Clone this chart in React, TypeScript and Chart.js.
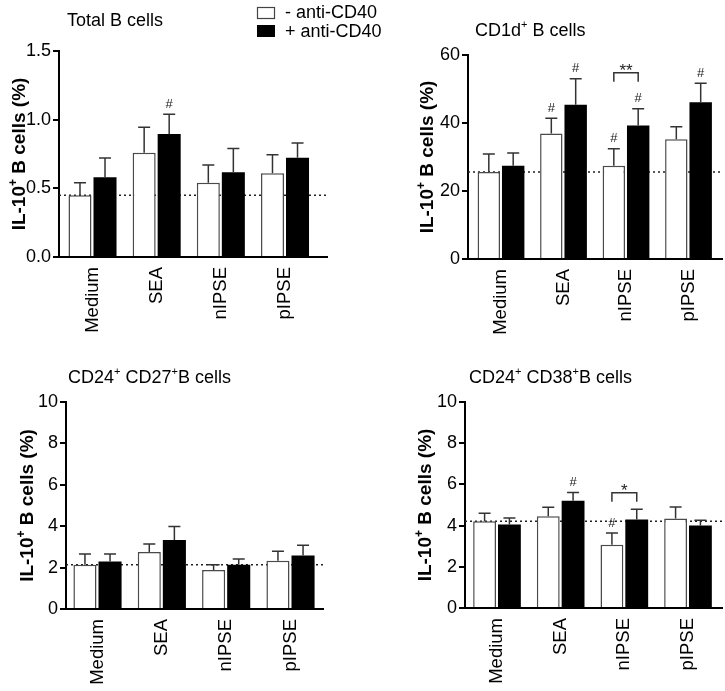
import React, { useEffect, useRef } from "react";
import { Chart, registerables } from "chart.js";

Chart.register(...registerables);

const FONT = "'Liberation Sans', Arial, Helvetica, sans-serif";

// ---------- data ----------
const categories = ["Medium", "SEA", "nIPSE", "pIPSE"];
const seriesLabels = ["- anti-CD40", "+ anti-CD40"];

// Total B cells
const totalMinus = [0.45, 0.76, 0.54, 0.61];
const totalMinusTop = [0.54, 0.945, 0.67, 0.745];
const totalPlus = [0.58, 0.895, 0.617, 0.723];
const totalPlusTop = [0.72, 1.04, 0.79, 0.83];
const totalTicks = [0, 0.5, 1.0, 1.5];

// CD1d+ B cells
const cd1dMinus = [25.6, 36.9, 27.4, 35.2];
const cd1dMinusTop = [30.9, 41.4, 32.4, 38.9];
const cd1dPlus = [27.4, 45.4, 39.3, 46.1];
const cd1dPlusTop = [31.2, 53.0, 44.2, 51.7];
const cd1dTicks = [0, 20, 40, 60];

// CD24+ CD27+ B cells
const cd27Minus = [2.14, 2.75, 1.88, 2.33];
const cd27MinusTop = [2.66, 3.14, 2.14, 2.79];
const cd27Plus = [2.3, 3.33, 2.14, 2.59];
const cd27PlusTop = [2.66, 3.99, 2.42, 3.08];
const cd27Ticks = [0, 2, 4, 6, 8, 10];

// CD24+ CD38+ B cells
const cd38Minus = [4.21, 4.45, 3.07, 4.35];
const cd38MinusTop = [4.6, 4.89, 3.64, 4.9];
const cd38Plus = [4.05, 5.21, 4.3, 4.0];
const cd38PlusTop = [4.37, 5.61, 4.79, 4.26];
const cd38Ticks = [0, 2, 4, 6, 8, 10];

// significance marks: [category, series]
const cd1dHashes: [number, number][] = [[1, 0], [1, 1], [2, 0], [2, 1], [3, 1]];
const totalHashes: [number, number][] = [[1, 1]];
const cd27Hashes: [number, number][] = [];
const cd38Hashes: [number, number][] = [[1, 1], [2, 0]];
const cd1dBrackets = [{ cat: 2, level: 54.8, label: "**" }];
const cd38Brackets = [{ cat: 2, level: 5.6, label: "*" }];

type Seg = { t: string; sup?: boolean };

const yTitle: Seg[] = [{ t: "IL-10" }, { t: "+", sup: true }, { t: " B cells (%)" }];

type Panel = {
  title: Seg[];
  minus: number[];
  minusTop: number[];
  plus: number[];
  plusTop: number[];
  ticks: number[];
  decimals: number;
  hashes: [number, number][];
  brackets: { cat: number; level: number; label: string }[];
  area: { left: number; right: number; top: number; bottom: number };
  centers: [number, number];
  titlePos: [number, number];
  yTitleX: number;
  legend?: boolean;
};

const panels: Panel[] = [
  {
    title: [{ t: "Total B cells" }],
    minus: totalMinus, minusTop: totalMinusTop, plus: totalPlus, plusTop: totalPlusTop,
    ticks: totalTicks, decimals: 1, hashes: totalHashes, brackets: [],
    area: { left: 59, right: 327, top: 51, bottom: 257 },
    centers: [92.5, 285],
    titlePos: [67, 20],
    yTitleX: 18,
    legend: true,
  },
  {
    title: [{ t: "CD1d" }, { t: "+", sup: true }, { t: " B cells" }],
    minus: cd1dMinus, minusTop: cd1dMinusTop, plus: cd1dPlus, plusTop: cd1dPlusTop,
    ticks: cd1dTicks, decimals: 0, hashes: cd1dHashes, brackets: cd1dBrackets,
    area: { left: 468, right: 722, top: 55, bottom: 259 },
    centers: [501, 688.5],
    titlePos: [475, 30],
    yTitleX: 426,
  },
  {
    title: [{ t: "CD24" }, { t: "+", sup: true }, { t: " CD27" }, { t: "+", sup: true }, { t: "B cells" }],
    minus: cd27Minus, minusTop: cd27MinusTop, plus: cd27Plus, plusTop: cd27PlusTop,
    ticks: cd27Ticks, decimals: 0, hashes: cd27Hashes, brackets: [],
    area: { left: 66, right: 323, top: 402, bottom: 609 },
    centers: [97.5, 290.5],
    titlePos: [68, 377],
    yTitleX: 26,
  },
  {
    title: [{ t: "CD24" }, { t: "+", sup: true }, { t: " CD38" }, { t: "+", sup: true }, { t: "B cells" }],
    minus: cd38Minus, minusTop: cd38MinusTop, plus: cd38Plus, plusTop: cd38PlusTop,
    ticks: cd38Ticks, decimals: 0, hashes: cd38Hashes, brackets: cd38Brackets,
    area: { left: 465, right: 722, top: 402, bottom: 608 },
    centers: [497, 688],
    titlePos: [469, 377],
    yTitleX: 424,
  },
];

const W = 725;
const H = 691;
const Y_W = 45;
const X_H = 80;

function richWidth(ctx: CanvasRenderingContext2D, segs: Seg[], size: number, weight: string) {
  let w = 0;
  for (const s of segs) {
    ctx.font = `${weight} ${s.sup ? Math.round(size * 0.62) : size}px ${FONT}`;
    w += ctx.measureText(s.t).width;
  }
  return w;
}

function drawRich(
  ctx: CanvasRenderingContext2D,
  segs: Seg[],
  x: number,
  y: number,
  size: number,
  weight: string,
  align: "left" | "center"
) {
  const total = richWidth(ctx, segs, size, weight);
  let cx = align === "center" ? x - total / 2 : x;
  ctx.textAlign = "left";
  ctx.textBaseline = "alphabetic";
  for (const s of segs) {
    const sz = s.sup ? Math.round(size * 0.62) : size;
    ctx.font = `${weight} ${sz}px ${FONT}`;
    ctx.fillText(s.t, cx, s.sup ? y - size * 0.42 : y);
    cx += ctx.measureText(s.t).width;
  }
}

function makePlugin(p: Panel) {
  return {
    id: "panelDecor",
    beforeDatasetsDraw(chart: any) {
      const ctx: CanvasRenderingContext2D = chart.ctx;
      const ys = chart.scales.y;
      const ca = chart.chartArea;
      const yy = ys.getPixelForValue(p.minus[0]);
      ctx.save();
      ctx.strokeStyle = "#222";
      ctx.lineWidth = 1.5;
      ctx.setLineDash([2, 3]);
      ctx.beginPath();
      ctx.moveTo(ca.left, yy);
      ctx.lineTo(ca.right, yy);
      ctx.stroke();
      ctx.restore();
    },
    afterDatasetsDraw(chart: any) {
      const ctx: CanvasRenderingContext2D = chart.ctx;
      const ys = chart.scales.y;
      const tops = [p.minusTop, p.plusTop];
      ctx.save();
      ctx.strokeStyle = "#333";
      ctx.lineWidth = 1.5;
      for (let d = 0; d < 2; d++) {
        const meta = chart.getDatasetMeta(d);
        meta.data.forEach((el: any, i: number) => {
          const yt = ys.getPixelForValue(tops[d][i]);
          ctx.beginPath();
          ctx.moveTo(el.x, el.y);
          ctx.lineTo(el.x, yt);
          ctx.moveTo(el.x - 6, yt);
          ctx.lineTo(el.x + 6, yt);
          ctx.stroke();
        });
      }
      ctx.fillStyle = "#222";
      ctx.font = `13px ${FONT}`;
      ctx.textAlign = "center";
      ctx.textBaseline = "middle";
      for (const [c, d] of p.hashes) {
        const el = chart.getDatasetMeta(d).data[c];
        const yt = ys.getPixelForValue(tops[d][c]);
        ctx.fillText("#", el.x, yt - 10);
      }
      for (const b of p.brackets) {
        const x1 = chart.getDatasetMeta(0).data[b.cat].x;
        const x2 = chart.getDatasetMeta(1).data[b.cat].x;
        const yb = ys.getPixelForValue(b.level);
        ctx.beginPath();
        ctx.moveTo(x1, yb + 9);
        ctx.lineTo(x1, yb);
        ctx.lineTo(x2, yb);
        ctx.lineTo(x2, yb + 9);
        ctx.stroke();
        ctx.font = `17px ${FONT}`;
        ctx.textBaseline = "alphabetic";
        ctx.fillText(b.label, (x1 + x2) / 2, yb + 3);
      }
      ctx.restore();
    },
    afterDraw(chart: any) {
      const ctx: CanvasRenderingContext2D = chart.ctx;
      const ca = chart.chartArea;
      ctx.save();
      ctx.fillStyle = "#000";
      drawRich(ctx, p.title, p.titlePos[0], p.titlePos[1] + 6, 18, "normal", "left");
      ctx.save();
      ctx.translate(p.yTitleX, (ca.top + ca.bottom) / 2);
      ctx.rotate(-Math.PI / 2);
      drawRich(ctx, yTitle, 0, 7, 19, "bold", "center");
      ctx.restore();
      if (p.legend) {
        ctx.lineWidth = 1.2;
        ctx.strokeStyle = "#444";
        ctx.fillStyle = "#fff";
        ctx.fillRect(257, 7, 18, 12);
        ctx.strokeRect(257.5, 7.5, 17, 11);
        ctx.fillStyle = "#000";
        ctx.fillRect(257, 25, 18, 12);
        ctx.font = `18px ${FONT}`;
        ctx.textAlign = "left";
        ctx.textBaseline = "middle";
        ctx.fillText(seriesLabels[0], 285, 13);
        ctx.fillText(seriesLabels[1], 285, 32);
      }
      ctx.restore();
    },
  };
}

function PanelChart({ p }: { p: Panel }) {
  const ref = useRef<HTMLCanvasElement | null>(null);
  useEffect(() => {
    if (!ref.current) return;
    const sp = (p.centers[1] - p.centers[0]) / 3;
    const xmin = -(p.centers[0] - p.area.left) / sp;
    const xmax = 3 + (p.area.right - p.centers[1]) / sp;
    const yMax = p.ticks[p.ticks.length - 1];
    const step = p.ticks[1] - p.ticks[0];
    const chart = new Chart(ref.current, {
      type: "bar",
      data: {
        datasets: [
          {
            label: seriesLabels[0],
            data: p.minus.map((v, i) => ({ x: i, y: v })),
            backgroundColor: "#ffffff",
            borderColor: "#4a4a4a",
            borderWidth: 1.5,
            categoryPercentage: 0.78,
            barPercentage: 0.92,
          },
          {
            label: seriesLabels[1],
            data: p.plus.map((v, i) => ({ x: i, y: v })),
            backgroundColor: "#000000",
            borderColor: "#000000",
            borderWidth: 0,
            categoryPercentage: 0.78,
            barPercentage: 0.92,
          },
        ] as any,
      },
      options: {
        responsive: false,
        animation: false,
        events: [],
        layout: {
          padding: {
            left: p.area.left - Y_W,
            right: W - p.area.right,
            top: p.area.top,
            bottom: H - p.area.bottom - X_H,
          },
        },
        plugins: {
          legend: { display: false },
          title: { display: false },
          tooltip: { enabled: false },
        },
        scales: {
          x: {
            type: "linear",
            offset: false,
            min: xmin,
            max: xmax,
            bounds: "data",
            afterBuildTicks: (s: any) => {
              s.ticks = categories.map((_, i) => ({ value: i }));
            },
            afterFit: (s: any) => {
              s.height = X_H;
            },
            ticks: {
              autoSkip: false,
              minRotation: 90,
              maxRotation: 90,
              padding: 10,
              color: "#000",
              font: { family: FONT, size: 18.5 },
              callback: (v: any) => categories[Number(v)] ?? "",
            },
            grid: { display: false, drawTicks: false, offset: false },
            border: { display: true, color: "#000", width: 2 },
          },
          y: {
            min: 0,
            max: yMax,
            afterBuildTicks: (s: any) => {
              s.ticks = p.ticks.map((v) => ({ value: v }));
            },
            afterFit: (s: any) => {
              s.width = Y_W;
            },
            ticks: {
              stepSize: step,
              padding: 2,
              color: "#000",
              font: { family: FONT, size: 18 },
              callback: (v: any) => Number(v).toFixed(p.decimals),
            },
            grid: {
              display: true,
              drawOnChartArea: false,
              drawTicks: true,
              tickLength: 6,
              color: "#000",
              lineWidth: 2,
            },
            border: { display: true, color: "#000", width: 2 },
          },
        },
      } as any,
      plugins: [makePlugin(p)],
    });
    return () => chart.destroy();
  }, [p]);
  return (
    <canvas
      ref={ref}
      width={W}
      height={H}
      style={{ position: "absolute", left: 0, top: 0, width: W, height: H }}
    />
  );
}

export default function App() {
  return (
    <div
      style={{
        position: "fixed",
        left: 0,
        top: 0,
        width: W,
        height: H,
        background: "#fff",
        overflow: "hidden",
      }}
    >
      {panels.map((p, i) => (
        <PanelChart key={i} p={p} />
      ))}
    </div>
  );
}
